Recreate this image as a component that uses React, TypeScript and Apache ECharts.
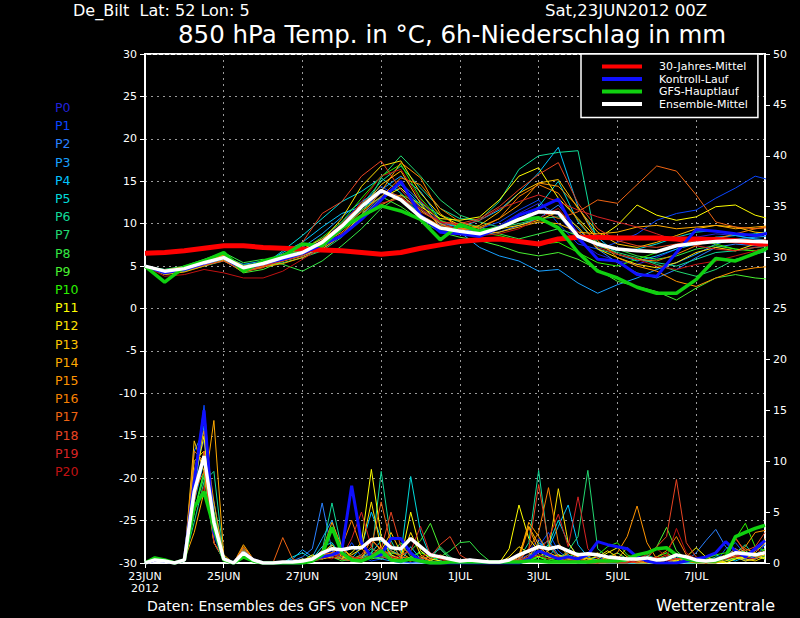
import React, { useEffect, useRef } from "react";
import * as echarts from "echarts";

// ---------- time grid ----------
const TEMP_STEP_H = 12; // temperature values every 12 h from 23JUN 00Z
const PRECIP_STEP_H = 6; // 6h precipitation every 6 h
const X_MAX_H = 378;
const DATE_LABELS = ["23JUN\n2012", "25JUN", "27JUN", "29JUN", "1JUL", "3JUL", "5JUL", "7JUL"];

// ---------- members ----------
const MEMBER_NAMES = ["P0","P1","P2","P3","P4","P5","P6","P7","P8","P9","P10","P11","P12","P13","P14","P15","P16","P17","P18","P19","P20"];
const MEMBER_COLORS = [
  "#2222d8", "#0a46ff", "#2a80ff", "#18a0ff", "#00c4ff", "#00dada", "#10da98", "#22d870",
  "#34e844", "#48f030", "#2cf000", "#ffff00", "#ffe000", "#ffc400", "#ffaa00", "#ff9400",
  "#f88000", "#f06412", "#e84422", "#d82424", "#c01212",
];

// 850 hPa temperature (°C), 12-hourly
const tP0 = [5.0,4.4,4.8,5.6,6.2,4.9,5.2,5.9,6.4, 7.4,9.2,11.6,13.6,14.2,11.8,9.9,9.4, 9.0,9.8,11.2,12.4,11.0,8.0, 6.4,5.6,5.2,6.0,7.0,8.4,8.8,8.6,8.2,8.0];
const tP1 = [5.0,4.2,4.5,5.2,5.8,4.6,5.0,6.2,6.9, 8.2,10.2,12.4,14.4,13.0,10.6,9.2,8.8, 9.4,10.2,11.6,12.8,10.0,7.6, 7.0,7.8,8.8,10.4,11.2,11.6,13.0,14.2,15.6,15.0];
const tP2 = [5.0,4.6,4.9,5.4,6.4,5.0,5.4,5.8,6.2, 7.0,8.6,11.0,13.2,14.8,12.6,10.2,9.6, 8.6,9.0,9.8,10.6,12.2,9.4, 7.0,5.4,4.2,3.6,4.6,6.0,7.2,7.6,7.4,7.8];
const tP3 = [5.0,4.3,4.6,5.3,6.1,5.2,5.6,6.4,7.2, 8.8,10.8,12.6,14.0,15.6,13.8,10.4,9.0, 7.2,6.2,5.6,4.4,4.6,3.0, 1.8,2.8,3.6,4.6,5.4,6.4,7.6,8.2,8.4,8.6];
const tP4 = [5.0,4.5,4.8,5.5,6.0,4.7,5.2,6.6,7.8, 9.6,11.2,12.0,13.0,14.6,12.2,10.0,9.6, 10.4,11.6,13.6,16.0,19.0,12.0, 8.4,6.4,5.6,6.2,7.0,7.6,8.4,8.6,8.2,8.0];
const tP5 = [5.0,4.1,4.4,5.1,5.9,4.5,5.1,6.8,8.6, 10.6,12.6,13.8,15.4,13.6,11.0,9.6,9.4, 9.2,9.6,10.4,12.0,15.0,10.2, 7.6,6.8,7.0,7.6,8.4,9.0,9.2,8.6,8.8,9.2];
const tP6 = [5.0,4.4,4.9,5.6,6.3,5.1,5.4,6.0,6.6, 7.8,9.6,12.2,15.0,16.8,14.2,11.8,10.6, 10.4,12.6,16.4,18.0,18.4,18.6, 7.0,6.4,5.8,5.4,5.0,5.8,6.6,6.8,7.2,7.4];
const tP7 = [5.0,4.0,4.4,5.0,5.6,4.4,5.0,5.4,6.0, 6.8,8.4,11.0,15.4,18.0,15.6,12.8,11.0, 10.2,9.6,10.0,10.6,10.8,9.0, 7.4,6.6,6.0,5.2,4.4,3.8,4.6,5.8,6.4,7.0];
const tP8 = [5.0,4.6,5.0,5.8,6.6,5.4,5.8,5.2,4.4, 5.6,7.4,9.4,11.8,13.4,12.4,11.0,10.2, 9.6,8.8,8.2,8.8,9.4,8.6, 7.8,7.0,6.2,5.8,6.2,7.0,7.4,7.0,6.8,7.2];
const tP9 = [5.0,4.2,4.6,5.2,5.8,4.2,4.6,5.6,6.4, 7.6,9.4,11.6,13.2,12.0,10.4,9.0,8.4, 8.0,7.4,6.6,6.2,6.6,5.8, 4.6,3.2,2.6,2.0,1.0,2.4,3.6,4.0,3.6,3.4];
const tP10 = [5.0,4.5,4.9,5.6,6.4,5.0,5.3,6.2,6.9, 8.4,10.2,13.0,15.6,17.0,13.0,10.4,9.6, 9.0,8.6,8.0,7.6,7.8,6.6, 5.4,5.0,5.8,6.6,7.4,8.2,7.6,7.0,6.8,7.4];
const tP11 = [5.0,4.3,4.7,5.4,5.9,4.6,5.0,5.6,6.2, 7.2,8.8,10.8,13.0,14.2,12.0,10.6,10.4, 10.8,12.8,15.6,16.6,13.0,10.6, 8.2,9.8,12.2,11.0,10.4,10.8,12.0,12.2,11.0,10.4];
const tP12 = [5.0,4.1,4.5,5.2,6.0,4.8,5.2,5.8,6.6, 8.0,10.6,14.4,16.8,17.4,13.6,11.0,9.8, 9.2,9.4,9.8,10.4,11.4,9.6, 7.0,6.0,5.2,4.8,5.4,6.6,7.2,6.8,7.6,8.4];
const tP13 = [5.0,4.4,4.8,5.5,6.2,4.8,5.4,6.4,7.0, 8.2,9.8,11.8,14.6,16.2,12.4,9.6,9.2, 9.8,11.4,13.6,14.8,15.2,11.8, 9.0,7.6,7.2,7.8,8.6,9.4,9.8,9.6,9.0,8.8];
const tP14 = [5.0,4.0,4.3,5.0,5.7,4.3,4.9,5.3,6.0, 7.0,8.6,10.6,12.2,13.4,11.6,10.0,9.0, 8.8,9.0,9.6,10.2,10.0,9.0, 8.8,9.0,9.6,9.8,9.4,9.6,9.8,9.4,9.6,9.8];
const tP15 = [5.0,4.5,4.9,5.5,6.3,5.0,5.4,5.9,6.5, 7.6,9.0,11.0,13.8,17.2,15.4,11.2,9.4, 9.6,10.6,12.2,14.8,14.4,12.0, 8.0,6.0,5.0,4.4,3.2,2.6,3.6,4.4,4.8,5.0];
const tP16 = [5.0,4.2,4.6,5.3,6.0,4.5,5.0,5.6,6.4, 7.6,9.4,11.4,13.2,15.4,14.6,11.8,10.2, 9.4,10.6,13.2,14.6,13.6,10.4, 7.6,6.4,5.8,5.6,6.4,7.4,8.2,8.8,9.4,9.8];
const tP17 = [5.0,4.3,4.7,5.4,6.1,4.8,5.2,5.8,6.6, 8.0,10.0,12.4,14.0,13.2,11.0,9.8,9.4, 9.2,9.6,10.4,11.6,10.6,11.4, 12.8,12.4,14.6,16.8,16.2,13.4,10.2,9.6,9.4,9.6];
const tP18 = [5.0,4.1,4.5,5.1,5.6,4.4,4.8,6.2,7.8, 11.2,12.6,15.6,17.4,14.0,11.4,10.2,10.0, 10.6,12.0,14.0,15.8,17.2,12.4, 9.4,8.0,7.4,7.2,7.6,8.0,8.4,8.2,8.0,8.2];
const tP19 = [5.0,4.5,4.8,5.4,6.0,4.6,5.0,5.6,6.2, 7.4,8.8,10.6,12.4,13.0,11.8,10.2,9.8, 10.4,11.8,12.6,13.4,12.6,11.6, 10.8,10.2,9.6,8.8,8.0,7.4,7.0,6.8,7.2,7.6];
const tP20 = [5.0,3.8,4.0,4.6,4.2,3.6,3.6,4.4,5.8, 7.2,9.6,12.6,15.6,16.4,12.8,10.2,9.2, 8.6,8.8,9.4,10.6,11.8,9.0, 7.2,6.4,5.8,5.0,4.6,5.2,5.6,6.2,6.8,7.4];
const MEMBER_TEMPS = [tP0,tP1,tP2,tP3,tP4,tP5,tP6,tP7,tP8,tP9,tP10,tP11,tP12,tP13,tP14,tP15,tP16,tP17,tP18,tP19,tP20];

// 6h precipitation (mm), 6-hourly
const pP0 = [0,0.4,0.2,0,0.3,9,12,3,0.4,0,0.8,0.2, 0,0,0,0,0.2,0.4,0.8,1.2,0.6,0.4,0.2,0.8, 1.4,0.6,0.2,0,0.3,0,0,0,0,0.2,0,0, 0,0,0.6,1.2,2.4,0.8,0.4,0.2,0,0,0.2,0, 0,0,0.4,0.2,0,0,0,0.3,0.5,0,0,0.4, 0.8,0.3,0.6,1.0];
const pP1 = [0,0.3,0.2,0,0.4,8,15.5,4,0.5,0,1.0,0.3, 0,0,0,0,0,0.2,1.0,0.6,0.4,2.0,0.6,0.2, 0.4,0.8,0.2,0,0,0,0.2,0,0,0,0,0, 0,0,0.4,0.8,1.6,3.0,1.2,0.4,0,0.2,0.6,0.2, 0,0,0,0,0.2,0,0,0,0,0,0,1.4, 2.0,0.8,0.6,1.8];
const pP2 = [0,0.2,0.2,0,0.3,11,13,2,0.3,0,1.2,0.2, 0,0,0,0.2,0.6,1.4,5.9,1.2,0.4,0.2,0.6,1.0, 0.6,0.4,0,0,0,0,0,0,0,0.4,0.2,0, 0,0,0.2,0.6,1.2,0.6,1.8,0.8,0.2,0,0,0.4, 0.2,0,0,0,0,0,0.6,0.2,1.0,2.2,3.3,1.6, 0.8,0.4,1.2,1.8];
const pP3 = [0,0.4,0.2,0,0.2,7,13.5,5,0.4,0,0.6,0.2, 0,0,0,0.4,1.3,0.6,2.4,4.2,1.0,0.4,0.2,0.6, 0.4,0.2,0,0.6,0.2,0.8,1.4,0.4,0,0,0,0, 0,0,0.3,0.4,1.6,2.2,0.8,0.6,0.2,0,0,0, 0,0.2,0,0,0,0,0.4,0.8,0.4,0,0.2,0.6, 1.4,0.8,0.4,1.2];
const pP4 = [0,0.3,0.1,0,0.3,6,10,6,0.6,0,1.4,0.3, 0,0,0,0,0.4,0.2,0.6,1.8,0.8,0.4,1.6,5.0, 2.4,0.6,0.2,1.6,0.4,0,0,0.2,0,0,0,0, 0,0,0,0.6,2.0,1.4,3.6,5.7,1.8,0.6,0.2,0, 0,0,0,0,0,0.4,0.2,0,0,0.6,0.8,0.4, 0.2,0.6,0.8,0.4];
const pP5 = [0,0.2,0.2,0,0.2,5,9,4,0.3,0,0.9,0.2, 0,0,0,0.6,1.0,0.4,1.6,2.0,0.6,0.2,0.4,1.0, 2.2,1.2,0.8,8.5,3.0,0.6,0.2,0,0,0,0,0, 0,0,0.2,0.4,1.0,1.8,4.2,2.0,0.6,0.4,0,0, 0,0,0,0,0,0,0,0.4,0.2,0,0,0.4, 0.6,0.2,0.4,0.8];
const pP6 = [0,0.3,0.2,0,0.3,4,8,9,0.5,0,1.1,0.3, 0,0,0,0,0.2,0.4,1.2,5.9,1.4,0.6,0.2,0.6, 9.0,2.2,0.4,0.2,0.6,0.2,0,0,0,0,0,0, 0,0,0.4,2.0,9.1,1.6,0.6,0.8,0.2,0,0,0.2, 0,0,0.3,0.8,0.4,0,0,0,0,0.2,0.6,0.4, 1.0,1.8,0.6,0.4];
const pP7 = [0,0.4,0.2,0,0.2,6,11,3,0.4,0,0.8,0.2, 0,0,0,0,0,0.2,0.6,1.0,0.4,0.2,0.6,1.4, 1.0,0.6,0.2,0.4,1.2,0.4,1.6,0.6,0,0,0,0, 0,0,0.2,0.4,0.8,0.6,0.4,1.2,2.6,9.1,1.4,0.6, 0.2,0,0,0,0.4,0.6,0.2,0,0,0,0.2,0.6, 0.4,0.8,1.0,0.6];
const pP8 = [0,0.3,0.3,0,0.3,5,8.5,2,0.3,0,1.0,0.3, 0,0,0,0,0.2,0.6,0.4,1.0,0.4,0.2,0.4,0.6, 0.4,0.8,2.0,0.6,0.2,0.2,0.6,1.2,2.0,2.1,1.0,0.2, 0,0,0,0.2,0.6,0.4,0.2,0.6,1.0,0.4,0,0, 0,0.2,0,0,0.6,1.0,0.4,0.2,0,0,0,0.2, 0.4,0.6,0.8,1.4];
const pP9 = [0,0.4,0.2,0,0.2,7,10,3,0.4,0,0.7,0.2, 0,0,0,0,0.2,0.4,0.8,0.6,0.2,0.4,0.8,0.4, 0.6,1.0,0.8,1.2,2.2,3.9,1.4,0.4,0,0,0,0, 0,0,0,0.2,0.6,0.2,0.8,0.4,0.2,0,0,0.6, 1.0,0.4,0.2,0.6,1.6,3.5,1.2,0.4,0,0.2,0.4,0.6, 0.8,1.2,0.6,0.8];
const pP10 = [0,0.3,0.2,0,0.4,5,9,5,0.6,0,1.2,0.3, 0,0,0,0,0,0.2,0.4,0.8,0.6,0.2,0.2,0.6, 0.8,0.4,0.2,0.6,1.0,0.6,0.4,0.2,0,0,0,0, 0,0,0,0.4,0.6,0.4,0.2,0.4,0.6,0.2,0.8,1.6, 2.0,0.8,0.4,0.2,0.6,1.0,0.4,0.2,0,0.4,0.8,1.0, 2.4,3.9,1.6,1.2];
const pP11 = [0,0.3,0.2,0,0.3,8,12.5,2,0.4,0,1.0,0.2, 0,0,0,0,0.2,0.8,0.4,0.6,0.4,1.0,2.0,9.2, 2.6,0.8,0.4,5.0,1.2,0.4,0.2,0,0,0,0,0, 0,1.4,5.7,2.4,1.2,0.6,0.8,0.4,0.2,0,0.4,1.0, 1.5,0.6,0.2,0,0,0,0.2,0.6,1.5,0.6,0.2,0, 0.4,0.6,0.8,0.4];
const pP12 = [0,0.2,0.2,0,0.3,10,11,4,0.3,0,1.1,0.2, 0,0,0,0,0,0.4,1.0,1.8,0.6,0.8,1.4,6.0, 1.4,0.6,0.4,3.0,0.8,0.2,0,0,0,0,0,0, 0,0.6,1.6,1.0,0.6,1.2,7.3,2.0,0.6,0.4,0.6,1.2, 0.6,0.2,0,0,0,0.4,0.2,0.6,0.4,0,0,0.2, 0.6,0.4,0.2,0.6];
const pP13 = [0,0.3,0.2,0,0.2,12,9,3,0.4,0,0.9,0.3, 0,0,0,0,0.4,0.2,0.6,0.8,1.4,0.6,0.4,2.4, 1.2,3.0,1.0,0.4,0.2,0,0,0,0,0,0,0, 0,0,0.8,3.6,1.8,0.6,0.4,0.2,0,0.6,1.0,0.4, 0,0,0.6,0.2,0,0,0,0.2,0,0,0.4,0.8, 0.6,0.2,0.4,0.8];
const pP14 = [0,0.4,0.2,0,0.3,3,7,14,0.8,0,1.8,0.4, 0,0,0,0,0.2,0.6,0.8,1.6,0.6,0.4,0.2,0.8, 1.6,0.6,0.4,0.2,0.6,0.2,0,0,0,0,0,0, 0,0,0.6,4.0,2.6,1.0,0.6,0.4,0.8,0.4,0.2,0.6, 0.4,1.5,0.6,0.2,0,0,0.4,0.6,0.2,0,0,0.4, 0.8,1.4,1.0,2.0];
const pP15 = [0,0.3,0.2,0,0.4,9,13,6,0.5,0,1.6,0.4, 0,0,0,0,0,0.4,1.2,4.0,1.6,0.6,0.4,0.6, 1.0,0.6,0.2,0.4,0.2,0,0,0,0,0,0,0, 0,0,0.4,3.5,1.2,0.8,0.4,1.0,0.6,0.2,0,0.4, 1.0,2.6,5.6,2.0,0.4,0,0,0.2,0.4,0.2,0,0.6, 1.0,1.6,3.0,3.2];
const pP16 = [0,0.2,0.2,0,0.3,11,10,2,0.4,0,1.3,0.3, 0,0,0,0,0.2,0.4,0.8,1.0,1.6,4.2,1.4,0.6, 0.8,1.2,0.6,0.4,0.2,0,0,0,0,0,0,0, 0,0,0.2,1.4,3.0,7.4,2.0,0.6,0.4,0.2,0,0, 0.2,0.6,0.4,0,0.6,1.2,2.6,0.8,0.4,0,0.2,0.6, 1.4,0.8,1.2,2.4];
const pP17 = [0,0.3,0.2,0,0.3,7,9,4,0.4,0,1.5,0.4, 0,0,2.5,0.4,0,0.2,0.6,1.0,0.8,0.4,0.6,1.6, 6.0,1.8,0.6,0.4,0.2,0.4,0.8,0.4,0,0,0,0, 0,0,0.2,0.8,1.6,0.8,0.4,0.6,0.2,0,0,0.2, 0.6,0.2,0,0,0.4,0.8,0.4,0.2,0,0,0.4,0.6, 2.5,1.0,0.6,1.2];
const pP18 = [0,0.4,0.2,0,0.2,6,11,3,0.3,0,1.0,0.2, 0,0,0,0,0.2,0.4,1.2,0.6,0.4,0.2,0.8,2.2, 1.4,5.0,1.6,0.8,0.4,0.6,1.8,2.6,0.8,0.2,0,0, 0,0,0.4,1.4,7.7,2.0,0.6,0.4,0.2,0,0,0.2, 0.4,0.2,0,0.4,1.6,2.6,8.2,2.0,0.6,0.2,0.4,0.6, 2.4,1.2,1.6,3.0];
const pP19 = [0,0.3,0.2,0,0.3,8,10,2,0.4,0,0.8,0.2, 0,0,0,0,0,0.2,0.4,0.8,0.6,2.4,5.0,1.6, 0.6,0.4,0.8,1.2,3.6,0.8,0.4,0.2,0,0,0,0, 0,0,0.2,0.6,1.0,2.4,4.8,1.6,6.5,1.4,0.4,0.2, 0,0,0.2,0.4,0.6,0.2,0.4,0.6,0.2,0,0.2,0.4, 0.8,0.6,0.4,1.0];
const pP20 = [0,0.2,0.2,0,0.2,5,7.5,3,0.3,0,0.6,0.2, 0,0,0,0,0,0.4,0.6,0.4,1.0,0.6,0.4,0.8, 1.4,0.6,0.4,0.2,0.6,1.0,0.4,0,0,0,0,0, 0,0,0,0.4,0.8,0.4,0.6,0.2,0.4,0,0,0, 0,0,0.4,0.8,1.4,0.6,3.4,1.0,0.4,0,0.2,0.4, 0.6,0.8,1.4,0.8];
const MEMBER_PRECIP = [pP0,pP1,pP2,pP3,pP4,pP5,pP6,pP7,pP8,pP9,pP10,pP11,pP12,pP13,pP14,pP15,pP16,pP17,pP18,pP19,pP20];

// ---------- highlighted runs ----------
const CLIMATE_TEMP = [6.5,6.6,6.8,7.1,7.4,7.4,7.2,7.1,7.0, 6.9,6.8,6.6,6.4,6.6,7.1,7.5,7.9, 8.1,8.2,7.9,7.6,8.2,8.4, 8.4,8.3,8.3,8.3,8.2,8.2,8.1,8.0,7.7,7.5];
const CONTROL_TEMP = [5.0,4.2,4.6,5.3,6.0,4.6,5.3,5.8,6.5, 7.5,8.6,10.5,12.8,15.0,11.0,9.0,8.8, 8.5,9.5,11.0,11.8,12.9,8.4, 5.8,5.6,4.0,3.8,6.6,9.3,9.1,8.8,8.6,9.0];
const GFS_TEMP = [5.0,3.1,4.9,5.6,6.6,4.4,5.6,6.2,7.6, 7.4,9.5,10.9,12.1,11.5,10.5,8.1,9.9, 9.1,9.5,10.5,10.7,9.5,6.6, 4.4,3.6,2.5,1.8,1.8,3.4,5.9,5.6,6.5,7.5];
const MEAN_TEMP = [5.0,4.4,4.7,5.4,6.0,4.8,5.3,6.0,6.6, 7.8,9.7,12.0,13.9,12.8,10.8,9.5,9.1, 8.8,9.5,10.5,11.4,11.3,8.5, 7.6,7.0,6.8,6.7,7.4,7.7,7.9,8.0,7.9,7.8];

const CONTROL_PRECIP = [0,0.3,0.2,0,0.3,8,15,3,0.4,0,1.0,0.3, 0,0,0,0,0,0.4,0.6,0.8,1.2,7.6,2.0,0.6, 0.8,2.4,2.4,1.0,0.2,0,0,0,0,0,0,0, 0,0,0,0.4,1.2,0.8,0.4,0.6,0.4,0.8,2.1,1.8, 1.6,1.4,0.6,0.2,0,0,0,0.2,0.4,0.6,1.0,2.1, 1.2,0.6,1.4,2.2];
const GFS_PRECIP = [0,0.5,0.3,0,0.3,5.5,7,3.5,0.3,0,0.6,0.2, 0,0,0,0,0,0.2,0.8,3.5,1.0,0.3,0.2,0.6, 1.2,0.3,0.2,0.4,0.2,0,0,0.1,0.1,0.1,0.1,0.1, 0.1,0.1,0.1,0.2,0.2,0.1,0.1,0.1,0.1,0.1,0.2,0.2, 0.2,0.4,0.8,1.0,1.4,1.5,0.8,0.4,0.2,0.2,0.2,0.6, 2.6,3.0,3.4,3.7];
const MEAN_PRECIP = [0,0.3,0.2,0,0.3,7,10.5,4,0.4,0,1.0,0.3, 0,0,0.1,0.1,0.2,0.4,1.0,1.4,1.3,1.5,1.5,2.3, 2.4,1.5,1.4,2.4,1.6,0.8,0.6,0.4,0.2,0.3,0.2,0.1, 0.1,0.3,0.8,1.2,1.6,1.4,1.6,1.2,0.8,0.9,0.8,0.6, 0.5,0.4,0.4,0.5,0.3,0.4,0.8,0.6,0.3,0.2,0.3,0.6, 1.0,0.9,0.8,1.0];

const LEGEND_NAMES = ["30-Jahres-Mittel", "Kontroll-Lauf", "GFS-Hauptlauf", "Ensemble-Mittel"];
const LEGEND_COLORS = ["#ff0000", "#1010ff", "#10d010", "#ffffff"];

const FONT = "DejaVu Sans";

function toPairs(values: number[], step: number) {
  return values.map((v, i) => [i * step, v]);
}

function lineSeries(name: string, data: number[][], color: string, width: number, yAxisIndex: number, z = 2) {
  return {
    type: "line",
    name,
    data,
    yAxisIndex,
    symbol: "none",
    showSymbol: false,
    silent: true,
    z,
    clip: true,
    itemStyle: { color },
    lineStyle: { color, width },
  };
}

export default function App() {
  const ref = useRef<HTMLDivElement>(null);

  useEffect(() => {
    if (!ref.current) return;
    const chart = echarts.init(ref.current, null, { renderer: "svg" });

    const series: any[] = [];
    MEMBER_NAMES.forEach((name, i) => {
      series.push(lineSeries(name, toPairs(MEMBER_PRECIP[i], PRECIP_STEP_H), MEMBER_COLORS[i], 1, 1));
    });
    MEMBER_NAMES.forEach((name, i) => {
      series.push(lineSeries(name, toPairs(MEMBER_TEMPS[i], TEMP_STEP_H), MEMBER_COLORS[i], 1, 0));
    });
    series.push(lineSeries(LEGEND_NAMES[0], toPairs(CLIMATE_TEMP, TEMP_STEP_H), LEGEND_COLORS[0], 5, 0, 3));
    series.push(lineSeries(LEGEND_NAMES[1], toPairs(CONTROL_TEMP, TEMP_STEP_H), LEGEND_COLORS[1], 3, 0, 3));
    series.push(lineSeries(LEGEND_NAMES[1], toPairs(CONTROL_PRECIP, PRECIP_STEP_H), LEGEND_COLORS[1], 3, 1, 3));
    series.push(lineSeries(LEGEND_NAMES[2], toPairs(GFS_TEMP, TEMP_STEP_H), LEGEND_COLORS[2], 3.5, 0, 3));
    series.push(lineSeries(LEGEND_NAMES[2], toPairs(GFS_PRECIP, PRECIP_STEP_H), LEGEND_COLORS[2], 3.5, 1, 3));
    series.push(lineSeries(LEGEND_NAMES[3], toPairs(MEAN_TEMP, TEMP_STEP_H), LEGEND_COLORS[3], 3.5, 0, 3));
    series.push(lineSeries(LEGEND_NAMES[3], toPairs(MEAN_PRECIP, PRECIP_STEP_H), LEGEND_COLORS[3], 3.5, 1, 3));

    const memberLabels = MEMBER_NAMES.map((name, i) => ({
      type: "text",
      left: 55,
      top: 101 + i * 18.2,
      style: { text: name, fill: MEMBER_COLORS[i], font: `12.5px "${FONT}"` },
    }));

    const axisLabel = { color: "#fff", fontSize: 11, fontFamily: FONT };
    const gridDash = { color: "#9a9a9a", width: 1, type: [2, 4] };

    chart.setOption({
      animation: false,
      backgroundColor: "#000",
      textStyle: { fontFamily: FONT },
      grid: {
        left: 145,
        right: 35,
        top: 54,
        bottom: 55,
        show: true,
        borderColor: "#fff",
        borderWidth: 2,
        backgroundColor: "#000",
      },
      legend: {
        data: LEGEND_NAMES,
        orient: "vertical",
        left: 581,
        top: 54,
        backgroundColor: "#000",
        borderColor: "#fff",
        borderWidth: 1.5,
        borderRadius: 0,
        padding: [7, 10, 8, 21],
        itemWidth: 40,
        itemHeight: 4,
        itemGap: 1.5,
        icon: "rect",
        selectedMode: false,
        textStyle: { color: "#fff", fontSize: 11, fontFamily: FONT, padding: [0, 0, 0, 12] },
      },
      xAxis: {
        type: "value",
        min: 0,
        max: X_MAX_H,
        interval: 48,
        axisLine: { show: true, onZero: false, lineStyle: { color: "#fff", width: 2 } },
        axisTick: { show: true, length: 5, lineStyle: { color: "#fff", width: 1 } },
        axisLabel: {
          ...axisLabel,
          margin: 7,
          lineHeight: 12,
          showMaxLabel: false,
          formatter: (v: number) => DATE_LABELS[Math.round(v / 48)] ?? "",
        },
        splitLine: { show: true, lineStyle: gridDash },
      },
      yAxis: [
        {
          type: "value",
          position: "left",
          min: -30,
          max: 30,
          interval: 5,
          axisLine: { show: true, onZero: false, lineStyle: { color: "#fff", width: 2 } },
          axisTick: { show: true, length: 5, lineStyle: { color: "#fff", width: 1 } },
          axisLabel: { ...axisLabel, margin: 8 },
          splitLine: { show: true, lineStyle: gridDash },
        },
        {
          type: "value",
          position: "right",
          min: 0,
          max: 50,
          interval: 5,
          axisLine: { show: true, onZero: false, lineStyle: { color: "#fff", width: 2 } },
          axisTick: { show: true, length: 5, lineStyle: { color: "#fff", width: 1 } },
          axisLabel: { ...axisLabel, margin: 8 },
          splitLine: { show: false },
        },
      ],
      graphic: [
        {
          type: "text",
          left: 73,
          top: 2,
          style: { text: "De_Bilt  Lat: 52 Lon: 5", fill: "#fff", font: `16px "${FONT}"` },
        },
        {
          type: "text",
          left: 545,
          top: 2,
          style: { text: "Sat,23JUN2012 00Z", fill: "#fff", font: `16.5px "${FONT}"` },
        },
        {
          type: "text",
          left: 178,
          top: 22,
          style: { text: "850 hPa Temp. in °C, 6h-Niederschlag in mm", fill: "#fff", font: `24.5px "${FONT}"` },
        },
        {
          type: "text",
          left: 147,
          top: 599,
          style: { text: "Daten: Ensembles des GFS von NCEP", fill: "#fff", font: `14px "${FONT}"` },
        },
        {
          type: "text",
          left: 656,
          top: 597,
          style: { text: "Wetterzentrale", fill: "#fff", font: `16px "${FONT}"` },
        },
        ...memberLabels,
      ],
      series,
    });

    return () => chart.dispose();
  }, []);

  return (
    <div
      ref={ref}
      style={{ position: "fixed", left: 0, top: 0, width: 800, height: 618, background: "#000" }}
    />
  );
}
